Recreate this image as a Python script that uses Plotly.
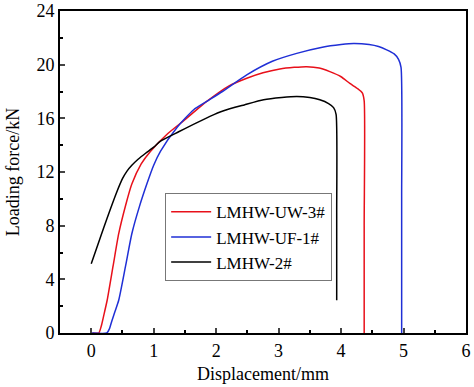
import plotly.graph_objects as go

# LMHW-UW-3# (red)
red_x = [0.02, 0.12, 0.16, 0.2, 0.255, 0.35, 0.44, 0.55, 0.65, 0.8, 0.95, 1.21, 1.5, 1.85, 2.2, 2.49, 2.75, 3.02, 3.25, 3.45, 3.65, 3.82, 4.0, 4.14, 4.27, 4.34, 4.37, 4.37, 4.37]
red_y = [0.0, 0.0, 0.5, 1.3, 2.44, 5.0, 7.4, 9.5, 11.1, 12.6, 13.55, 14.8, 15.9, 17.26, 18.4, 18.99, 19.4, 19.68, 19.8, 19.85, 19.75, 19.48, 19.1, 18.6, 18.2, 17.9, 17.3, 8.0, 0.0]

# LMHW-UF-1# (blue)
blue_x = [0.0, 0.25, 0.29, 0.33, 0.38, 0.44, 0.55, 0.65, 0.77, 0.89, 1.0, 1.11, 1.37, 1.64, 1.85, 2.1, 2.49, 2.9, 3.29, 3.7, 4.0, 4.2, 4.45, 4.6, 4.73, 4.85, 4.92, 4.96, 4.97, 4.97]
blue_y = [0.0, 0.0, 0.3, 0.9, 1.6, 2.44, 5.0, 7.4, 9.4, 11.1, 12.5, 13.55, 15.3, 16.64, 17.26, 18.0, 19.24, 20.25, 20.84, 21.3, 21.5, 21.58, 21.5, 21.35, 21.1, 20.8, 20.4, 19.8, 10.0, 0.0]

# LMHW-2# (black)
black_x = [0.0, 0.1, 0.2, 0.3, 0.4, 0.5, 0.57, 0.65, 0.75, 0.87, 1.0, 1.11, 1.4, 1.9, 2.12, 2.45, 2.76, 3.05, 3.29, 3.5, 3.66, 3.8, 3.88, 3.92, 3.93, 3.93]
black_y = [5.16, 6.5, 7.85, 9.15, 10.4, 11.5, 12.05, 12.5, 12.95, 13.4, 13.85, 14.3, 15.0, 16.15, 16.57, 17.0, 17.38, 17.55, 17.63, 17.55, 17.38, 17.1, 16.8, 16.3, 9.0, 2.44]

names = ["LMHW-UW-3#", "LMHW-UF-1#", "LMHW-2#"]
colors = ["#e8101a", "#1f2fd6", "#000000"]

x_ticks = [0, 1, 2, 3, 4, 5, 6]
y_ticks = [0, 4, 8, 12, 16, 20, 24]

fig = go.Figure()
for xs, ys, nm, c in [(red_x, red_y, names[0], colors[0]),
                      (blue_x, blue_y, names[1], colors[1]),
                      (black_x, black_y, names[2], colors[2])]:
    fig.add_trace(go.Scatter(x=xs, y=ys, mode="lines", name=nm,
                             line=dict(color=c, width=1.5, shape="spline", smoothing=0.6)))

font_family = "Liberation Serif, Times New Roman, serif"
fig.update_layout(
    width=474, height=387,
    margin=dict(l=60, r=8, t=11, b=54, autoexpand=False),
    paper_bgcolor="white", plot_bgcolor="white",
    font=dict(family=font_family, size=18, color="black"),
    showlegend=True,
    legend=dict(x=0.259, y=0.434, xanchor="left", yanchor="top",
                bordercolor="#777777", borderwidth=1, bgcolor="white",
                font=dict(family=font_family, size=17, color="black"),
                tracegroupgap=0, itemwidth=40),
)
fig.update_xaxes(
    range=[-0.5, 6.0001], tickvals=x_ticks, ticks="inside", ticklen=5, tickwidth=1.5,
    showline=True, linecolor="black", linewidth=2, mirror=True,
    showgrid=False, zeroline=False, automargin=False, ticklabeloverflow="allow",
    minor=dict(ticks="inside", dtick=0.5, tick0=0, ticklen=3, tickwidth=1.5, tickcolor="black"),
    title=dict(text="Displacement/mm", font=dict(size=18), standoff=8),
    tickfont=dict(size=18),
)
fig.update_yaxes(
    range=[0, 24.0001], tickvals=y_ticks, ticks="inside", ticklen=5, tickwidth=1.5,
    showline=True, linecolor="black", linewidth=2, mirror=True,
    showgrid=False, zeroline=False, automargin=False, ticklabeloverflow="allow",
    minor=dict(ticks="inside", dtick=2, tick0=0, ticklen=3, tickwidth=1.5, tickcolor="black"),
    title=dict(text="Loading force/kN", font=dict(size=18), standoff=12),
    tickfont=dict(size=18),
)

fig.write_html("out.html", config={"displayModeBar": False},
               post_script="document.body.style.margin='0px';")
